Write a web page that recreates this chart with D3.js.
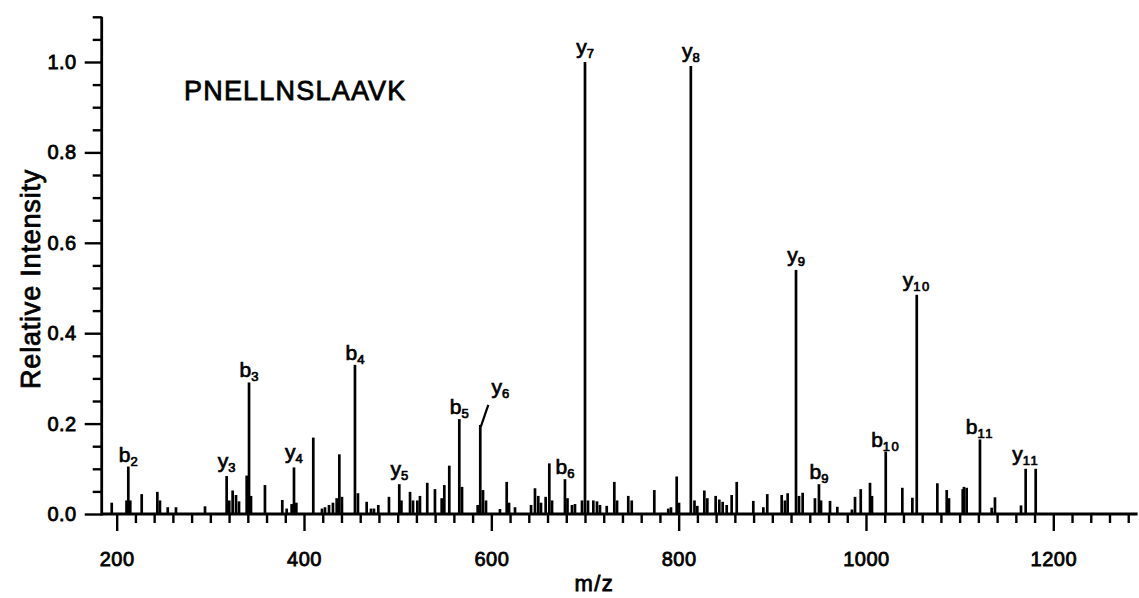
<!DOCTYPE html>
<html>
<head>
<meta charset="utf-8">
<script src="https://cdn.jsdelivr.net/npm/d3@7"></script>
<style>
  html, body { margin: 0; padding: 0; background: #fff; }
  svg { display: block; }
  text { font-family: "Liberation Sans", Arial, Helvetica, sans-serif; fill: #000; }
</style>
</head>
<body>
<svg id="chart" width="1139" height="598"></svg>
<script>
// MS/MS fragment spectrum of the peptide PNELLNSLAAVK

const peptide = "PNELLNSLAAVK";

// peak centroids (m/z) and their relative intensities
const peakMz = [
  194.7, 210.5, 212.4, 214.5, 226.7, 243.4, 246.2, 254.5, 263.3, 294.3,
  317.4, 320.2, 323.8, 327.4, 330.6, 338.8, 341.3, 343.4, 358.3, 376.8,
  381.5, 386.8, 389.3, 391.8, 409.9, 419.2, 422.4, 426.7, 430.9, 434.9,
  437.7, 440.5, 454.4, 457.6, 466.9, 471.5, 474.7, 479.3, 490.7, 501.7,
  504.0, 513.2, 516.4, 521.0, 523.8, 531.6, 539.8, 547.0, 549.8, 555.1,
  565.8, 568.7, 585.4, 588.2, 591.1, 594.3, 609.2, 616.4, 618.9, 625.3,
  642.4, 646.6, 650.1, 653.0, 658.0, 661.9, 664.8, 678.6, 681.3, 686.1,
  689.3, 696.8, 700.0, 703.2, 708.9, 712.8, 716.0, 723.2, 731.3, 734.2,
  746.2, 749.9, 774.0, 788.9, 791.8, 797.9, 800.4, 813.0, 816.9, 819.9,
  827.4, 830.6, 839.5, 843.4, 847.0, 851.3, 856.6, 862.0, 879.7, 890.4,
  894.6, 910.0, 913.5, 916.4, 925.3, 928.5, 932.4, 945.5, 949.8, 952.0,
  961.6, 969.4, 985.0, 988.3, 994.4, 1004.3, 1006.4, 1021.1, 1038.8, 1049.5,
  1054.2, 1076.2, 1086.2, 1088.6, 1103.3, 1104.6, 1107.5, 1121.7, 1134.2, 1137.7,
  1165.5, 1170.5, 1181.2
];
const peakIntensity = [
  0.025, 0.030, 0.105, 0.030, 0.044, 0.049, 0.030, 0.015, 0.015, 0.017,
  0.084, 0.030, 0.052, 0.042, 0.028, 0.085, 0.291, 0.040, 0.064, 0.031,
  0.012, 0.022, 0.103, 0.025, 0.169, 0.012, 0.015, 0.020, 0.025, 0.035,
  0.132, 0.038, 0.330, 0.046, 0.027, 0.012, 0.012, 0.020, 0.038, 0.066,
  0.030, 0.049, 0.030, 0.030, 0.040, 0.069, 0.055, 0.035, 0.064, 0.107,
  0.210, 0.060, 0.020, 0.197, 0.053, 0.030, 0.011, 0.071, 0.025, 0.015,
  0.020, 0.057, 0.040, 0.025, 0.038, 0.112, 0.030, 0.077, 0.035, 0.020,
  0.022, 0.030, 1.000, 0.030, 0.030, 0.028, 0.020, 0.018, 0.071, 0.030,
  0.040, 0.030, 0.053, 0.012, 0.015, 0.083, 0.025, 0.991, 0.030, 0.018,
  0.052, 0.035, 0.040, 0.032, 0.027, 0.020, 0.042, 0.071, 0.029, 0.015,
  0.044, 0.042, 0.030, 0.046, 0.540, 0.040, 0.047, 0.035, 0.066, 0.030,
  0.029, 0.016, 0.010, 0.038, 0.055, 0.069, 0.040, 0.138, 0.058, 0.036,
  0.485, 0.068, 0.053, 0.035, 0.055, 0.060, 0.058, 0.165, 0.014, 0.037,
  0.019, 0.100, 0.100
];

// assigned fragment ions: series letter, index, and the m/z of the peak they sit on
const ionSeries = ["b", "y", "b", "y", "b", "y", "b", "y", "b", "y", "y", "y", "b", "b", "y", "b", "y"];
const ionIndex  = ["2", "3", "3", "4", "4", "5", "5", "6", "6", "7", "8", "9", "9", "10", "10", "11", "11"];
const ionMz     = [212.4, 317.4, 341.3, 389.3, 454.4, 501.7, 565.8, 588.2, 678.6, 700.0,
                   813.0, 925.3, 949.8, 1021.1, 1054.2, 1121.7, 1170.5];

// axis ticks
const xMajorTicks = [200, 400, 600, 800, 1000, 1200];
const xTickLabels = ["200", "400", "600", "800", "1000", "1200"];
const yMajorTicks = [0, 0.2, 0.4, 0.6, 0.8, 1.0];
const yTickLabels = ["0.0", "0.2", "0.4", "0.6", "0.8", "1.0"];

const xMinorTicks = d3.range(200, 1281, 20).filter(v => v % 200 !== 0);
const yMinorTicks = d3.range(0, 23).map(i => +(i * 0.05).toFixed(2))
  .filter(v => Math.abs(v * 5 - Math.round(v * 5)) > 1e-6);

const svg = d3.select("#chart");

const x = d3.scaleLinear().domain([184, 1290]).range([101.7, 1137.6]);
const y = d3.scaleLinear().domain([0, 1.1]).range([514, 16.8]);

const axisStroke = 2.8;
const textWeight = 0.8;   // outline that thickens the glyphs a little

// ----- x axis -----
const gx = svg.append("g").attr("transform", `translate(0,${y(0)})`);
gx.append("g")
  .call(d3.axisBottom(x).tickValues(xMinorTicks).tickSize(9).tickFormat(""))
  .call(g => g.select(".domain").remove());
gx.append("g")
  .call(d3.axisBottom(x).tickValues(xMajorTicks).tickSize(17).tickPadding(21)
        .tickFormat((d, i) => xTickLabels[i]))
  .call(g => g.select(".domain").remove());
gx.selectAll("line").attr("stroke", "#000").attr("stroke-width", 2.4);
gx.selectAll("text")
  .style("font-size", "20px").style("letter-spacing", "0.5px")
  .attr("stroke", "#000").attr("stroke-width", textWeight);
gx.append("line")
  .attr("x1", x.range()[0]).attr("x2", x.range()[1])
  .attr("stroke", "#000").attr("stroke-width", axisStroke);

// ----- y axis -----
const gy = svg.append("g").attr("transform", `translate(${x(184)},0)`);
gy.append("g")
  .call(d3.axisLeft(y).tickValues(yMinorTicks).tickSize(9).tickFormat(""))
  .call(g => g.select(".domain").remove());
gy.append("g")
  .call(d3.axisLeft(y).tickValues(yMajorTicks).tickSize(17).tickPadding(8)
        .tickFormat((d, i) => yTickLabels[i]))
  .call(g => g.select(".domain").remove());
gy.selectAll("line").attr("stroke", "#000").attr("stroke-width", 2.4);
gy.selectAll("text")
  .style("font-size", "20px").style("letter-spacing", "0.5px")
  .attr("stroke", "#000").attr("stroke-width", textWeight);
gy.append("line")
  .attr("y1", y(1.1)).attr("y2", y(0) + 1.4)
  .attr("stroke", "#000").attr("stroke-width", axisStroke);

// axis titles
svg.append("text")
  .attr("x", x(710)).attr("y", 591)
  .attr("text-anchor", "middle")
  .style("font-size", "22px").style("letter-spacing", "1.5px")
  .attr("stroke", "#000").attr("stroke-width", textWeight)
  .text("m/z");

svg.append("text")
  .attr("transform", `translate(40,${y(0.52)}) rotate(-90)`)
  .attr("text-anchor", "middle")
  .style("font-size", "27px").style("letter-spacing", "0.8px")
  .attr("stroke", "#000").attr("stroke-width", textWeight)
  .text("Relative Intensity");

// peptide sequence
svg.append("text")
  .attr("x", 184).attr("y", 100)
  .style("font-size", "27px")
  .style("letter-spacing", "1.2px")
  .attr("stroke", "#000").attr("stroke-width", textWeight)
  .text(peptide);

// ----- peaks -----
const peaks = peakMz.map((m, i) => ({ mz: m, inten: peakIntensity[i] }));
svg.append("g")
  .selectAll("line")
  .data(peaks)
  .join("line")
  .attr("x1", d => x(d.mz)).attr("x2", d => x(d.mz))
  .attr("y1", y(0)).attr("y2", d => y(d.inten))
  .attr("stroke", "#000")
  .attr("stroke-width", 2.7);

// ----- ion labels -----
const intensityAt = m => peaks.find(p => p.mz === m).inten;
const leader = { "y6": { dx: 8, dy: -20, tx: 20, ty: -31 } };

const gl = svg.append("g");
ionSeries.forEach((s, i) => {
  const key = s + ionIndex[i];
  const px = x(ionMz[i]);
  const py = y(intensityAt(ionMz[i]));
  let tx = px, ty = py - (s === "y" ? 8 : 5);
  if (leader[key]) {
    const L = leader[key];
    gl.append("line")
      .attr("x1", px + 0.5).attr("y1", py + 2)
      .attr("x2", px + L.dx).attr("y2", py + L.dy)
      .attr("stroke", "#000").attr("stroke-width", 2.2);
    tx = px + L.tx;
    ty = py + L.ty;
  }
  const t = gl.append("text")
    .attr("x", tx).attr("y", ty)
    .attr("text-anchor", "middle")
    .attr("stroke", "#000").attr("stroke-width", 0.7);
  t.append("tspan").style("font-size", "21px").text(s);
  t.append("tspan")
    .attr("dy", 4)
    .style("font-size", "13px")
    .style("letter-spacing", ionIndex[i].length > 1 ? "1.5px" : "0px")
    .text(ionIndex[i]);
});
</script>
</body>
</html>
